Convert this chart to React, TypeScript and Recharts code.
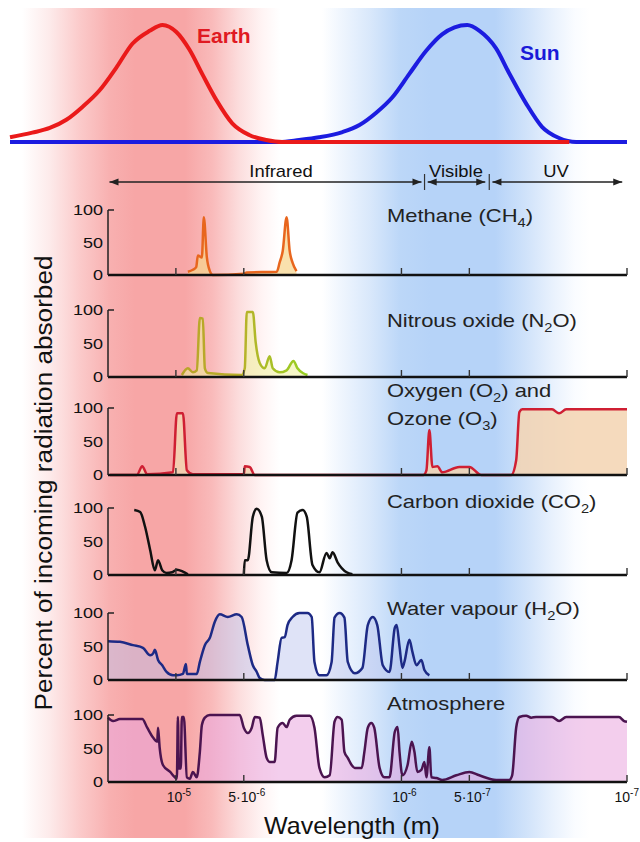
import React from 'react';
import { ComposedChart, Line, Area, XAxis, YAxis } from 'recharts';

type P = [number, number | null];
const toPts = (a: P[]) => a.map(([w, v]) => ({ w, v }));

// wavelength in micrometres, value in percent
const earthEmission: P[] = [[54, 4], [43, 8], [36, 12], [30.4, 19], [25.8, 30], [21.7, 44], [18.2, 64], [15.5, 84], [13, 95], [11.4, 100], [9.9, 94], [8.67, 79], [7.6, 58], [6.59, 36], [5.6, 16], [4.71, 6], [3.96, 1.7], [3.36, 0], [2.5, 0], [1, 0], [0.5, 0], [0.18, 0]];
const sunEmission: P[] = [[54, 0], [10, 0], [3.47, 0], [2.83, 1.7], [2.31, 4], [1.82, 8.5], [1.53, 14.5], [1.29, 25], [1.096, 38], [0.922, 58], [0.775, 78], [0.659, 92], [0.58, 98], [0.51, 100], [0.45, 95], [0.38, 80], [0.333, 59], [0.28, 33], [0.238, 13], [0.2, 3.4], [0.168, 0], [0.1, 0]];

const methane: P[] = [[8.85, 5], [8.41, 8], [8.13, 12], [7.99, 30], [7.67, 27], [7.52, 89], [7.29, 27], [7.07, 6], [6.86, 0], [5.0, 2], [4.85, 4], [3.57, 5], [3.47, 19], [3.36, 37], [3.23, 89], [3.13, 37], [3.04, 19], [2.92, 6]];
const nitrousOxide: P[] = [[9.41, 3], [8.85, 13], [8.41, 7], [8.08, 10], [7.83, 88], [7.6, 87], [7.44, 13], [7.22, 6], [5.11, 3], [4.95, 13], [4.85, 97], [4.56, 97], [4.43, 52], [4.25, 21], [4.04, 13], [3.84, 31], [3.72, 13], [3.47, 7], [3.23, 10], [3.01, 24], [2.89, 13], [2.74, 6], [2.61, 3]];
const oxygenOzone: P[] = [[19.6, 0], [14.9, 0], [14.1, 13], [13.4, 1], [10.3, 4], [9.9, 92], [9.31, 92], [8.94, 7], [8.41, 1], [5.0, 1], [4.95, 13], [4.71, 12], [4.47, 0], [0.8, 0], [0.775, 7], [0.752, 67], [0.729, 12], [0.693, 13], [0.659, 4], [0.554, 12], [0.5, 12], [0.443, 0], [0.326, 0], [0.31, 22], [0.3, 94], [0.291, 98], [0.215, 98], [0.2, 92], [0.186, 98], [0.1, 98]];
const carbonDioxide: P[] = [[15.3, 97], [14.4, 94], [13.7, 72], [13.0, 37], [12.4, 7], [12.0, 22], [11.5, 7], [11.0, 3], [10.4, 4], [9.9, 8], [9.31, 5], [8.85, 1], [6.5, null], [5.0, 0], [4.95, 22], [4.8, 22], [4.56, 87], [4.38, 99], [4.16, 87], [3.96, 22], [3.76, 4], [3.23, 3], [3.07, 22], [2.89, 93], [2.74, 97], [2.63, 87], [2.48, 15], [2.31, 4], [2.15, 33], [2.08, 25], [2.02, 34], [1.92, 19], [1.75, 4], [1.65, 1]];
const waterVapour: P[] = [[20, 58], [17.7, 57], [15.5, 52], [14.0, 48], [13.0, 37], [12.6, 40], [12.4, 45], [12.0, 30], [11.5, 22], [11.0, 12], [10.3, 7], [9.9, 7], [9.31, 9], [9.03, 24], [8.94, 9], [8.08, 9], [7.83, 27], [7.44, 52], [7.07, 63], [6.72, 87], [6.39, 98], [5.89, 94], [5.37, 98], [5.11, 94], [4.8, 52], [4.56, 22], [4.38, 12], [4.25, 3], [4.04, 0], [3.65, 0], [3.54, 27], [3.4, 63], [3.29, 64], [3.2, 82], [3.04, 94], [2.83, 100], [2.61, 100], [2.5, 94], [2.43, 27], [2.31, 7], [2.15, 7], [2.04, 27], [1.98, 93], [1.88, 100], [1.79, 93], [1.73, 27], [1.61, 10], [1.49, 18], [1.41, 82], [1.34, 94], [1.28, 82], [1.21, 22], [1.13, 12], [1.07, 78], [1.05, 82], [1.02, 50], [0.99, 18], [0.97, 27], [0.922, 60], [0.894, 42], [0.858, 22], [0.816, 30], [0.791, 15], [0.752, 7]];
const atmosphere: P[] = [[20, 96], [19.0, 91], [17.7, 94], [14.1, 94], [13.4, 81], [12.6, 66], [12.1, 60], [12.0, 81], [11.8, 51], [11.4, 25], [10.6, 15], [10.1, 7], [9.9, 5], [9.8, 97], [9.7, 20], [9.51, 20], [9.41, 97], [9.22, 97], [8.94, 7], [8.67, 5], [8.41, 15], [8.08, 7], [7.83, 45], [7.67, 85], [7.44, 96], [7.07, 100], [5.21, 100], [5.0, 81], [4.8, 73], [4.61, 81], [4.47, 97], [4.25, 96], [4.12, 70], [3.96, 36], [3.84, 30], [3.65, 30], [3.54, 81], [3.36, 88], [3.23, 82], [3.13, 93], [2.92, 99], [2.55, 99], [2.43, 81], [2.31, 21], [2.19, 7], [2.08, 10], [1.98, 90], [1.92, 97], [1.84, 93], [1.79, 45], [1.73, 36], [1.66, 25], [1.61, 21], [1.5, 21], [1.46, 45], [1.41, 81], [1.36, 88], [1.32, 81], [1.25, 21], [1.19, 7], [1.13, 7], [1.07, 75], [1.04, 82], [1.02, 45], [0.99, 10], [0.94, 25], [0.9, 60], [0.876, 45], [0.85, 15], [0.816, 18], [0.791, 30], [0.775, 7], [0.752, 52], [0.737, 7], [0.7, 6], [0.659, 3], [0.571, 10], [0.5, 15], [0.452, 10], [0.38, 3], [0.333, 3], [0.323, 10], [0.31, 81], [0.3, 97], [0.28, 99], [0.266, 96], [0.253, 97], [0.215, 97], [0.2, 91], [0.186, 97], [0.1085, 97], [0.103, 91], [0.1, 90]];

const xTickValues = [10, 5, 1, 0.5, 0.1];
const xTickMantissa = ['10', '5·10', '10', '5·10', '10'];
const xTickExponent = ['-5', '-6', '-6', '-7', '-7'];
const yTickValues = [0, 50, 100];
const bandRanges: [number, number][] = [[19.7, 0.815], [0.765, 0.425], [0.395, 0.105]];
const bandBoundaries = [0.79, 0.408];

const FONT = '"Liberation Sans", Arial, Helvetica, sans-serif';

const panels = [
  { id: 'ch4', data: methane, y100: 210, y0: 275, stroke: '#e8661e', fill: '#f7d48a', fillOpacity: 0.7, last: false },
  { id: 'n2o', data: nitrousOxide, y100: 310, y0: 377, stroke: 'url(#n2oStroke)', fill: '#eef09a', fillOpacity: 0.55, last: false },
  { id: 'o3', data: oxygenOzone, y100: 408, y0: 475, stroke: '#cf1f33', fill: '#f3d3b2', fillOpacity: 0.85, last: false },
  { id: 'co2', data: carbonDioxide, y100: 508, y0: 575, stroke: '#111111', fill: '#ffffff', fillOpacity: 0, last: false },
  { id: 'h2o', data: waterVapour, y100: 613, y0: 680, stroke: '#1d2a85', fill: '#b8c2ee', fillOpacity: 0.45, last: false },
  { id: 'atm', data: atmosphere, y100: 715, y0: 782, stroke: '#4b1450', fill: '#eaa6de', fillOpacity: 0.55, last: true },
];

const XTick = (p: any) => {
  const { x, y, payload, showLabel } = p;
  const i = xTickValues.indexOf(payload.value);
  const isEnd = i === xTickValues.length - 1;
  return (
    <g>
      <line x1={x} x2={x} y1={y} y2={y - 7} stroke="#333" strokeWidth={1.4} />
      {showLabel && i >= 0 && (
        <text x={isEnd ? 639 : x + 3} y={y + 20} textAnchor={isEnd ? 'end' : 'middle'} fontSize={14} fill="#111" fontFamily={FONT}>
          {xTickMantissa[i]}
          <tspan dy={-6} fontSize={10}>{xTickExponent[i]}</tspan>
        </text>
      )}
    </g>
  );
};

const YTick = (p: any) => {
  const { x, y, payload } = p;
  return (
    <g>
      {payload.value === 100 && <line x1={x + 5} x2={x + 11} y1={y} y2={y} stroke="#222" strokeWidth={1.5} />}
      <text x={x} y={y} dy="0.36em" textAnchor="end" fontSize={15} fill="#111" fontFamily={FONT}
        transform={`translate(${x} 0) scale(1.2 1) translate(${-x} 0)`}>{payload.value}</text>
    </g>
  );
};

const ArrowHead = (p: any) => {
  const { cx, cy, index } = p;
  if (cx == null || cy == null) return <g key={`ah${index}`} />;
  const d = index === 0 ? -1 : 1;
  const hl = 9, hw = 3.5;
  return (
    <polygon key={`ah${index}`} points={`${cx},${cy} ${cx - d * hl},${cy - hw} ${cx - d * hl},${cy + hw}`} fill="#222" />
  );
};

function Panel({ cfg }: { cfg: typeof panels[number] }) {
  const mt = 12;
  const axisH = cfg.last ? 30 : 8;
  const h = mt + (cfg.y0 - cfg.y100) + axisH;
  return (
    <div style={{ position: 'absolute', left: 0, top: cfg.y100 - mt }}>
      <ComposedChart width={640} height={h} margin={{ top: mt, right: 13, bottom: 0, left: 0 }}>
        <defs>
          <linearGradient id="n2oStroke" x1="0" y1="0" x2="1" y2="0">
            <stop offset="0%" stopColor="#b9a42a" />
            <stop offset="45%" stopColor="#b9b02a" />
            <stop offset="100%" stopColor="#96d023" />
          </linearGradient>
        </defs>
        <XAxis dataKey="w" type="number" scale="log" domain={[0.1, 20]} reversed
          ticks={xTickValues} interval={0} tickLine={false} tickSize={0} tickMargin={0} height={axisH}
          axisLine={{ stroke: '#111', strokeWidth: 2.5 }}
          tick={(tp: any) => <XTick {...tp} showLabel={cfg.last} />} />
        <YAxis type="number" domain={[0, 100]} ticks={yTickValues} interval={0} width={108}
          tickLine={false} tickSize={0} tickMargin={5}
          axisLine={{ stroke: '#222', strokeWidth: 1.5 }} tick={YTick} />
        <Area data={toPts(cfg.data)} dataKey="v" type="monotone" stroke={cfg.stroke} strokeWidth={2.5}
          fill={cfg.fill} fillOpacity={cfg.fillOpacity} baseValue={0} dot={false} activeDot={false}
          isAnimationActive={false} strokeLinejoin="round" />
      </ComposedChart>
    </div>
  );
}

export default function App() {
  const bg = 'linear-gradient(to right, #ffffff 0px, #ffffff 22px, #fdeaea 50px, #fbcaca 80px, #f8b0b0 110px, #f7a6a6 135px, #f7a6a6 185px, #f9baba 212px, #fcdede 240px, #fff4f4 262px, #ffffff 280px, #ffffff 322px, #f0f6fe 340px, #d9e8fb 370px, #bcd7f8 400px, #b6d3f8 430px, #b6d3f8 495px, #cfe2fa 525px, #e8f1fd 552px, #fafcff 575px, #ffffff 590px, #ffffff 640px)';
  return (
    <div style={{ position: 'absolute', left: 0, top: 0, width: 640, height: 842, overflow: 'hidden', background: '#fff', fontFamily: FONT }}>
      <div style={{ position: 'absolute', left: 0, top: 8, width: 640, height: 830, background: bg }} />

      <div style={{ position: 'absolute', left: 0, top: 0 }}>
        <ComposedChart width={640} height={150} margin={{ top: 25, right: 13, bottom: 8, left: 10 }}>
          <XAxis dataKey="w" type="number" scale="log" domain={[0.1, 54]} reversed hide />
          <YAxis type="number" domain={[0, 100]} hide />
          <Line data={toPts(sunEmission)} dataKey="v" type="monotone" stroke="#1c1ce0" strokeWidth={4} dot={false} activeDot={false} isAnimationActive={false} />
          <Line data={toPts(earthEmission)} dataKey="v" type="monotone" stroke="#ea1a1a" strokeWidth={4} dot={false} activeDot={false} isAnimationActive={false} />
        </ComposedChart>
      </div>

      <div style={{ position: 'absolute', left: 0, top: 172 }}>
        <ComposedChart width={640} height={20} margin={{ top: 2, right: 13, bottom: 2, left: 108 }}>
          <XAxis dataKey="w" type="number" scale="log" domain={[0.1, 20]} reversed hide />
          <YAxis type="number" domain={[-1, 1]} hide />
          {bandRanges.map(([a, b], i) => (
            <Line key={`band${i}`} data={[{ w: a, v: 0 }, { w: b, v: 0 }]} dataKey="v" type="linear" stroke="#222" strokeWidth={1.3}
              dot={ArrowHead} activeDot={false} isAnimationActive={false} />
          ))}
          {bandBoundaries.map((b) => (
            <Line key={`sep${b}`} data={[{ w: b, v: -1 }, { w: b, v: 1 }]} dataKey="v" type="linear" stroke="#333" strokeWidth={1.2}
              dot={false} activeDot={false} isAnimationActive={false} />
          ))}
        </ComposedChart>
      </div>

      {panels.map((cfg) => <Panel key={cfg.id} cfg={cfg} />)}

      <svg width={640} height={842} style={{ position: 'absolute', left: 0, top: 0, pointerEvents: 'none' }} fontFamily={FONT}>
        <text x={197} y={43} fontSize={21} fontWeight="bold" fill="#e01a22">Earth</text>
        <text x={520} y={60} fontSize={21} fontWeight="bold" fill="#1a1ad8">Sun</text>

        <text transform="translate(281 177) scale(1.15 1)" textAnchor="middle" fontSize={16} fill="#111">Infrared</text>
        <text transform="translate(456 177) scale(1.15 1)" textAnchor="middle" fontSize={16} fill="#111">Visible</text>
        <text transform="translate(556 177) scale(1.15 1)" textAnchor="middle" fontSize={16} fill="#111">UV</text>

        <g fontSize={18} fill="#222">
          <text transform="translate(387 222) scale(1.22 1)">Methane (CH<tspan dy={5} fontSize={12}>4</tspan><tspan dy={-5}>)</tspan></text>
          <text transform="translate(387 327) scale(1.22 1)">Nitrous oxide (N<tspan dy={5} fontSize={12}>2</tspan><tspan dy={-5}>O)</tspan></text>
          <text transform="translate(387 397) scale(1.22 1)">Oxygen (O<tspan dy={5} fontSize={12}>2</tspan><tspan dy={-5}>) and</tspan></text>
          <text transform="translate(387 425) scale(1.22 1)">Ozone (O<tspan dy={5} fontSize={12}>3</tspan><tspan dy={-5}>)</tspan></text>
          <text transform="translate(387 508) scale(1.22 1)">Carbon dioxide (CO<tspan dy={5} fontSize={12}>2</tspan><tspan dy={-5}>)</tspan></text>
          <text transform="translate(387 615) scale(1.22 1)">Water vapour (H<tspan dy={5} fontSize={12}>2</tspan><tspan dy={-5}>O)</tspan></text>
          <text transform="translate(387 710) scale(1.22 1)">Atmosphere</text>
        </g>

        <text transform="translate(52 483) rotate(-90) scale(1.09 1)" textAnchor="middle" fontSize={24} fill="#111">Percent of incoming radiation absorbed</text>
        <text transform="translate(352 834) scale(1.09 1)" textAnchor="middle" fontSize={23} fill="#111">Wavelength (m)</text>
      </svg>
    </div>
  );
}
